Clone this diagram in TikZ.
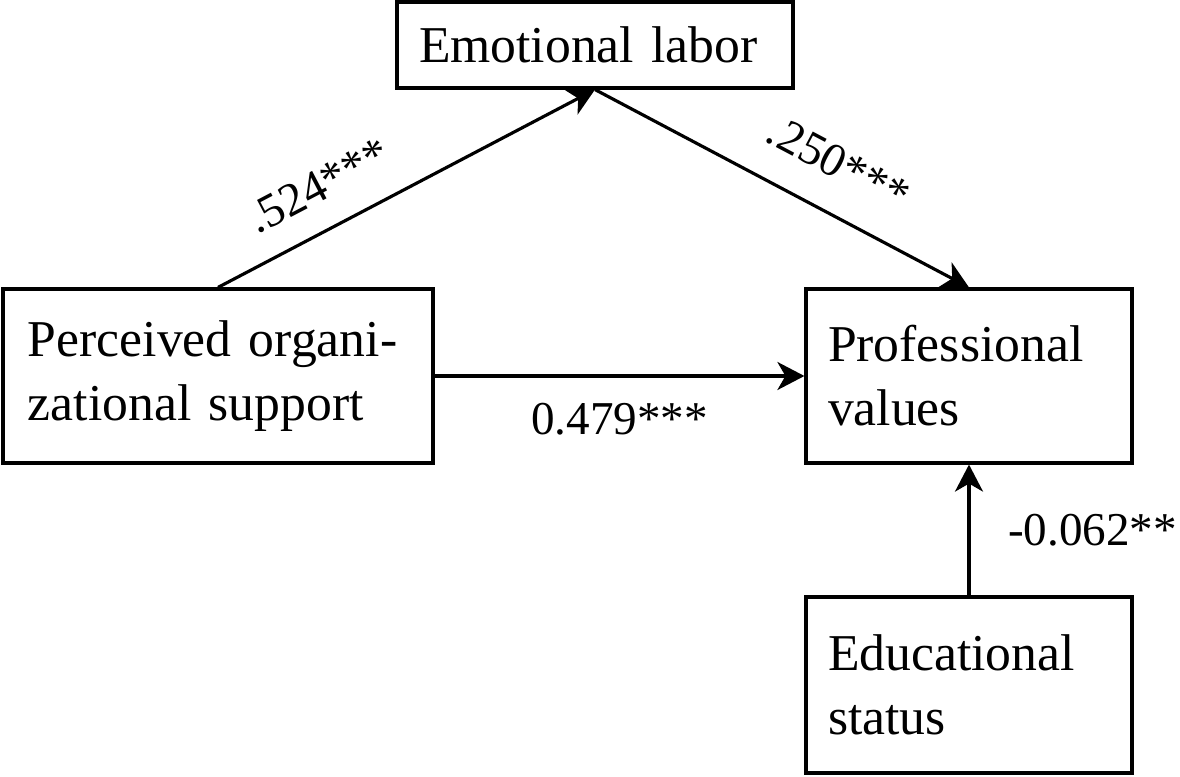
\documentclass[tikz,border=0pt]{standalone}
\usepackage{fontspec}
\setmainfont{Liberation Serif}
\usetikzlibrary{arrows.meta,positioning}

\begin{document}
\begin{tikzpicture}[
MyBox/.style={draw=black,line width=0.9pt,rectangle,align=left,inner xsep=0.22cm,inner ysep=0pt,font=\fontsize{14.7}{18.2}\selectfont},
MyArrow/.style={-{Stealth[length=2.7mm,width=2.8mm,inset=0.8mm]},line width=0.9pt},
MyLabel/.style={font=\fontsize{13.4}{16}\selectfont}
]
\useasboundingbox (0,0) rectangle (11.8,-7.77);

% boxes
\node[MyBox, text width=3.52cm, minimum height=0.86cm] (EL) at (5.95,-0.45) {Emotional labor};
\node[MyBox, inner xsep=0.25cm, text width=3.80cm, minimum height=1.74cm] (POS) at (2.18,-3.76) {Perceived organi-\\zational support};
\node[MyBox, text width=2.82cm, minimum height=1.74cm] (PV) at (9.69,-3.76) {Professional\\values};
\node[MyBox, text width=2.82cm, minimum height=1.76cm] (ES) at (9.69,-6.85) {Educational\\status};

% paths
\draw[MyArrow] (POS.north) -- (EL.south) node[MyLabel, sloped, above=0.14cm, pos=0.32] {.524***};
\draw[MyArrow] (EL.south) -- (PV.north) node[MyLabel, sloped, above=0.2cm, pos=0.59] {.250***};
\draw[MyArrow] (POS.east) -- (PV.west) node[MyLabel, below=0.14cm, pos=0.5] {0.479***};
\draw[MyArrow] (ES.north) -- (PV.south) node[MyLabel, right=0.26cm, pos=0.5] {-0.062**};

\end{tikzpicture}
\end{document}
